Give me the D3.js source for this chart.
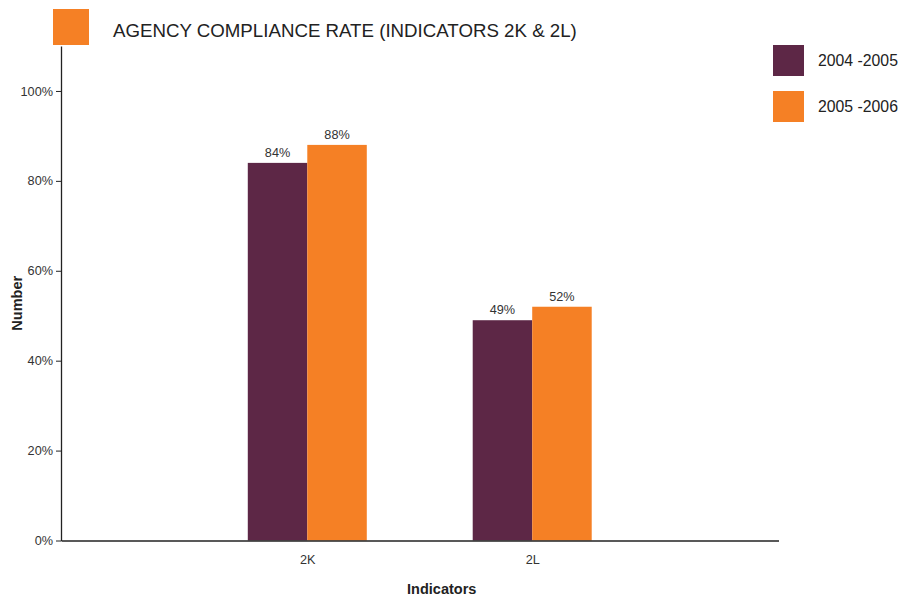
<!DOCTYPE html>
<html>
<head>
<meta charset="utf-8">
<script src="https://cdn.jsdelivr.net/npm/d3@7"></script>
<style>
  html, body { margin: 0; padding: 0; background: #fff; }
  svg { display: block; font-family: "Liberation Sans", Arial, sans-serif; }
</style>
</head>
<body>
<svg id="chart" width="902" height="596"></svg>
<script>
// Indicators on the x axis and the two reporting years
const categories = ["2K", "2L"];
const seriesNames = ["2004 -2005", "2005 -2006"];
const values2004 = [0.84, 0.49];
const values2005 = [0.88, 0.52];
const yTicks = [0, 0.2, 0.4, 0.6, 0.8, 1.0];
const colors = ["#5D2746", "#F58025"];
const titleText = "AGENCY COMPLIANCE RATE (INDICATORS 2K & 2L)";

const seriesValues = [values2004, values2005];

const svg = d3.select("#chart");
const plotLeft = 61, plotRight = 778.5, plotTop = 46, plotBottom = 540.5;

const y = d3.scaleLinear().domain([0, 1.1]).range([plotBottom, plotTop]);
const x = d3.scalePoint().domain(categories).range([plotLeft, plotRight]).padding(1.095);
const inner = d3.scaleBand().domain(seriesNames).range([-59.5, 59.5]);

// Title block
svg.append("rect").attr("x", 53).attr("y", 9).attr("width", 36).attr("height", 36).attr("fill", colors[1]);
svg.append("text").attr("x", 113).attr("y", 37).attr("font-size", 18.7).attr("fill", "#222").text(titleText);

// Bars and value labels
seriesNames.forEach((name, s) => {
  const g = svg.append("g");
  g.selectAll("rect").data(categories).join("rect")
    .attr("x", d => x(d) + inner(name))
    .attr("width", inner.bandwidth())
    .attr("y", (d, i) => y(seriesValues[s][i]))
    .attr("height", (d, i) => plotBottom - y(seriesValues[s][i]))
    .attr("fill", colors[s]);
  g.selectAll("text").data(categories).join("text")
    .attr("x", d => x(d) + inner(name) + inner.bandwidth() / 2)
    .attr("y", (d, i) => y(seriesValues[s][i]) - 6)
    .attr("text-anchor", "middle")
    .attr("font-size", 12.7)
    .attr("fill", "#333")
    .text((d, i) => d3.format(".0%")(seriesValues[s][i]));
});

// Y axis
const yAxis = svg.append("g").attr("transform", `translate(${plotLeft},0)`)
  .call(d3.axisLeft(y).tickValues(yTicks).tickFormat(d3.format(".0%")).tickSize(5).tickSizeOuter(0));
yAxis.select(".domain").attr("stroke", "#222").attr("stroke-width", 1.3);
yAxis.selectAll(".tick line").attr("stroke", "#222");
yAxis.selectAll(".tick text").attr("font-size", 12.7).attr("fill", "#333").attr("font-family", "Liberation Sans, Arial, sans-serif");

// X axis
const xAxis = svg.append("g").attr("transform", `translate(0,${plotBottom})`)
  .call(d3.axisBottom(x).tickSize(0).tickSizeOuter(0).tickPadding(14));
xAxis.select(".domain").attr("stroke", "#222").attr("stroke-width", 1.3);
xAxis.selectAll(".tick text").attr("font-size", 12.7).attr("fill", "#333").attr("font-family", "Liberation Sans, Arial, sans-serif");

// Axis titles
svg.append("text").attr("x", (plotLeft + plotRight) / 2 + 22).attr("y", 594)
  .attr("text-anchor", "middle").attr("font-size", 14.5).attr("font-weight", "bold").attr("fill", "#222")
  .text("Indicators");
svg.append("text").attr("transform", `translate(22,${(plotTop + plotBottom) / 2 + 10}) rotate(-90)`)
  .attr("text-anchor", "middle").attr("font-size", 14.5).attr("font-weight", "bold").attr("fill", "#222")
  .text("Number");

// Legend
const legend = svg.append("g");
seriesNames.forEach((name, i) => {
  legend.append("rect").attr("x", 773).attr("y", 45 + i * 46).attr("width", 31).attr("height", 31).attr("fill", colors[i]);
  legend.append("text").attr("x", 818).attr("y", 66 + i * 46).attr("font-size", 15.8).attr("fill", "#222").text(name);
});
</script>
</body>
</html>
